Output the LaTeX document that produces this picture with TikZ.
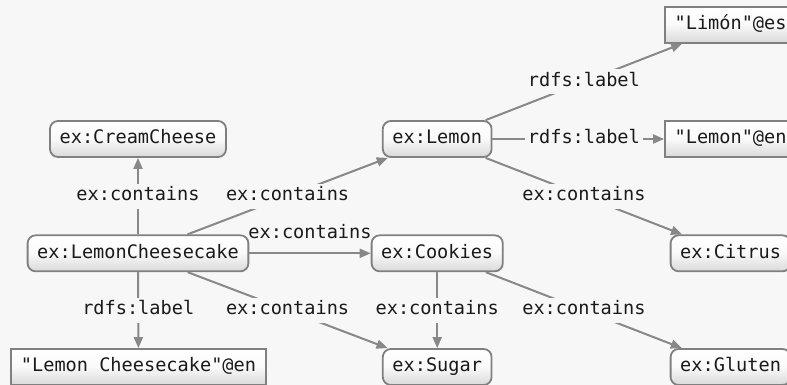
\documentclass[tikz,border=0pt]{standalone}
\usepackage{fontspec}
\setmainfont{DejaVu Sans Mono}[Ligatures=TeXOff]
\usetikzlibrary{arrows.meta,calc}

\definecolor{bgcol}{HTML}{F7F7F7}
\definecolor{edgecol}{HTML}{888888}
\definecolor{bordercol}{HTML}{808080}
\definecolor{shadecol}{HTML}{D9D9D9}
\definecolor{inkcol}{HTML}{1A1A1A}

\tikzset{
  basebox/.style={draw=bordercol, line width=1.8pt, top color=white, bottom color=shadecol,
    middle color=white!85!shadecol, text=inkcol, inner xsep=9.6pt, inner ysep=0pt,
    minimum height=36pt, text height=13.5pt, text depth=4pt},
  res/.style={basebox, rounded corners=8pt},
  lit/.style={basebox},
  edge/.style={draw=edgecol, line width=2pt, -{Triangle[length=11pt,width=9pt]}},
  elab/.style={fill=bgcol, text=inkcol, inner xsep=3pt, inner ysep=0pt,
    minimum height=25pt, text height=13.5pt, text depth=4pt},
  plainlab/.style={text=inkcol, inner sep=0pt, text height=13.5pt, text depth=4pt}
}

\begin{document}
\begin{tikzpicture}[x=1pt, y=-1pt, font=\fontsize{18.6}{22}\selectfont]
  \fill[bgcol] (0,0) rectangle (787,385);
  \clip (0,0) rectangle (787,385);
  \useasboundingbox (0,0) rectangle (787,385);

  % resources and literals
  \node[res] (cc)  at (138,139)    {ex:CreamCheese};
  \node[res] (lc)  at (138,253.3)  {ex:LemonCheesecake};
  \node[lit] (lce) at (138.5,367)  {"Lemon Cheesecake"@en};
  \node[res] (lem) at (437.2,139)  {ex:Lemon};
  \node[res] (coo) at (437.2,253.3){ex:Cookies};
  \node[res] (sug) at (437.2,367)  {ex:Sugar};
  \node[lit] (les) at (730.6,24.7) {"Limón"@es};
  \node[lit] (len) at (730.6,139)  {"Lemon"@en};
  \node[res] (cit) at (730.6,253.3){ex:Citrus};
  \node[res] (glu) at (730.6,367)  {ex:Gluten};

  % properties of ex:LemonCheesecake
  \draw[edge] (lc) -- (cc);
  \node[elab] at ($(lc)!.5!(cc)$) {ex:contains};
  \draw[edge] (lc) -- (lem);
  \node[elab] at ($(lc)!.5!(lem)$) {ex:contains};
  \draw[edge] (lc) -- (coo);
  \node[plainlab] at ($(lc.east)!.5!(coo.west)+(0,-19.7)$) {ex:contains};
  \draw[edge] (lc) -- (lce);
  \node[elab] at ($(lc)!.5!(lce)$) {rdfs:label};
  \draw[edge] (lc) -- (sug);
  \node[elab] at ($(lc)!.5!(sug)$) {ex:contains};

  % properties of ex:Lemon
  \draw[edge] (lem) -- (les);
  \node[elab] at ($(lem)!.5!(les)$) {rdfs:label};
  \draw[edge] (lem) -- (len);
  \node[elab] at ($(lem)!.5!(len)$) {rdfs:label};
  \draw[edge] (lem) -- (cit);
  \node[elab] at ($(lem)!.5!(cit)$) {ex:contains};

  % properties of ex:Cookies
  \draw[edge] (coo) -- (sug);
  \node[elab] at ($(coo)!.5!(sug)$) {ex:contains};
  \draw[edge] (coo) -- (glu);
  \node[elab] at ($(coo)!.5!(glu)$) {ex:contains};
\end{tikzpicture}
\end{document}
